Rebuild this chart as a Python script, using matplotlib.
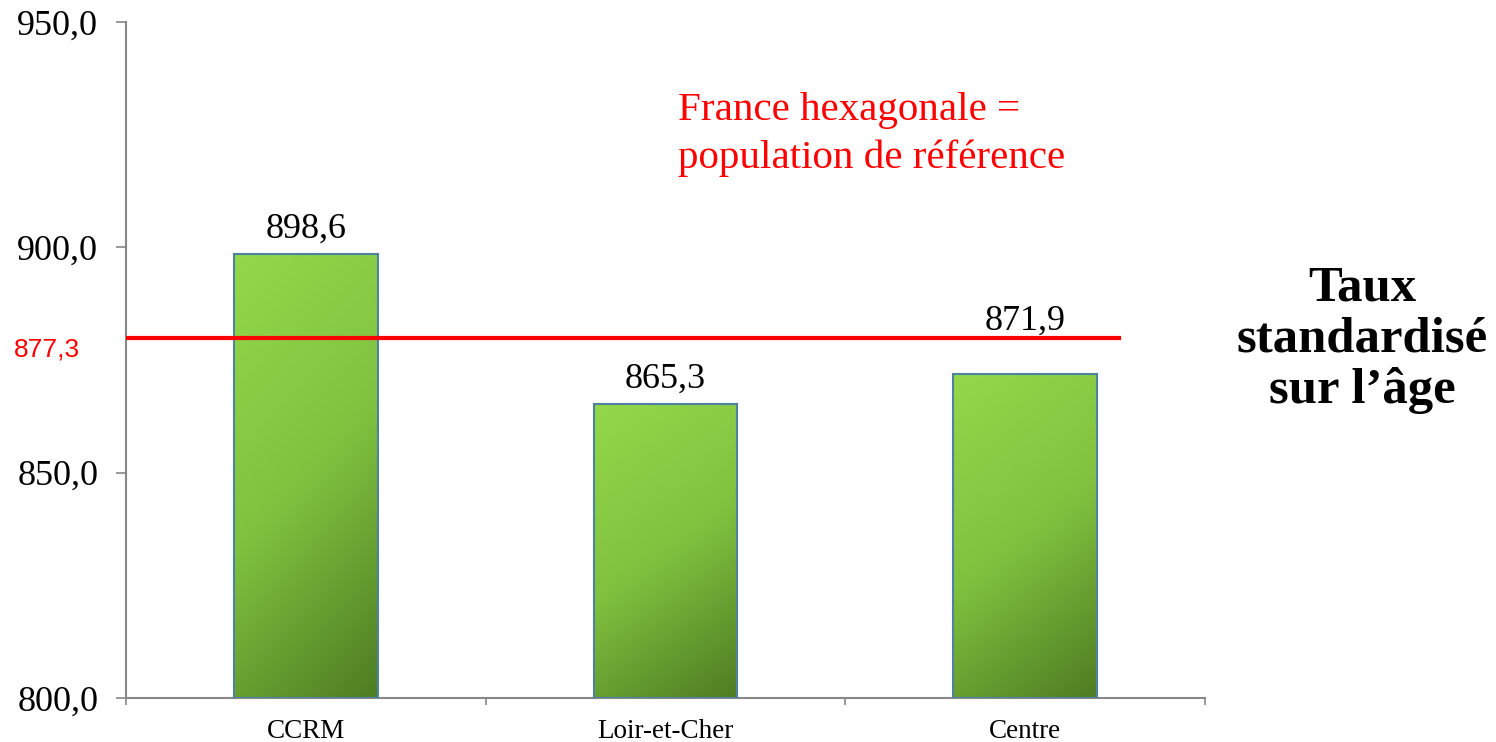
import numpy as np
import matplotlib.pyplot as plt
from matplotlib.colors import LinearSegmentedColormap

categories = ['CCRM', 'Loir-et-Cher', 'Centre']
values = [898.6, 865.3, 871.9]
reference = 877.3
reference_line = 879.9  # the red line as drawn in the picture (slightly above its label)
yticks = [800, 850, 900, 950]


def fr(v):
    return f'{v:.1f}'.replace('.', ',')


plt.rcParams['font.family'] = ['Liberation Serif', 'DejaVu Serif']

fig = plt.figure(figsize=(14.96, 7.42), dpi=100)
ax = fig.add_axes([0.0842, 0.0593, 0.7213, 0.9111])

x = np.arange(len(categories))
bars = ax.bar(x, [v - yticks[0] for v in values], bottom=yticks[0], width=0.4,
              facecolor='none', edgecolor='#4f82a0', linewidth=1.5, zorder=3)

# green gradient inside each bar (light top-left -> dark bottom-right)
cmap = LinearSegmentedColormap.from_list('g', ['#93d84b', '#80c23f', '#4e7d22'])
yy, xx = np.mgrid[0:1:200j, 0:1:60j]
grad = 0.75 * yy + 0.25 * xx
# the Centre label sits above the red line in the original
label_offsets = [6, 6, 26]
for b, v, off in zip(bars, values, label_offsets):
    x0 = b.get_x()
    im = ax.imshow(grad, extent=[x0, x0 + b.get_width(), yticks[0], v],
                   origin='upper', cmap=cmap, vmin=0, vmax=1, aspect='auto', zorder=2)
    im.set_clip_path(b)
    ax.annotate(fr(v), xy=(b.get_x() + b.get_width() / 2, v), xytext=(0, off),
                textcoords='offset points', ha='center', va='bottom', fontsize=26)

ax.plot([-0.5, 2.26], [reference_line, reference_line], color='red', lw=3, zorder=4)
ax.annotate(fr(reference), xy=(0, reference), xycoords=('axes fraction', 'data'),
            xytext=(-33, 0), textcoords='offset points', ha='right', va='center',
            color='red', fontsize=19, family='Liberation Sans')

ax.set_xlim(-0.5, 2.5)
ax.set_ylim(800, 950)
ax.set_yticks(yticks)
ax.set_yticklabels([fr(t) for t in yticks], fontsize=26)
ax.tick_params(axis='y', length=7, width=1.2, color='#888888', pad=13)

ax.set_xticks(np.arange(-0.5, 3, 1))
ax.set_xticklabels([])
ax.set_xticks(x, minor=True)
ax.set_xticklabels(categories, minor=True, fontsize=19.5)
ax.tick_params(axis='x', which='major', length=5, width=1.2, color='#888888')
ax.tick_params(axis='x', which='minor', length=0, pad=15)

for s in ['top', 'right']:
    ax.spines[s].set_visible(False)
for s in ['left', 'bottom']:
    ax.spines[s].set_color('#888888')
    ax.spines[s].set_linewidth(1.5)

fig.text(678 / 1496, 1 - 92 / 742, 'France hexagonale =\npopulation de référence',
         ha='left', va='top', color='red', fontsize=29.5, linespacing=1.36)
fig.text(1362 / 1496, 1 - 340 / 742, 'Taux\nstandardisé\nsur l’âge',
         ha='center', va='center', fontsize=36.5, fontweight='bold', linespacing=1.14)

fig.savefig('out.png', dpi=100)
